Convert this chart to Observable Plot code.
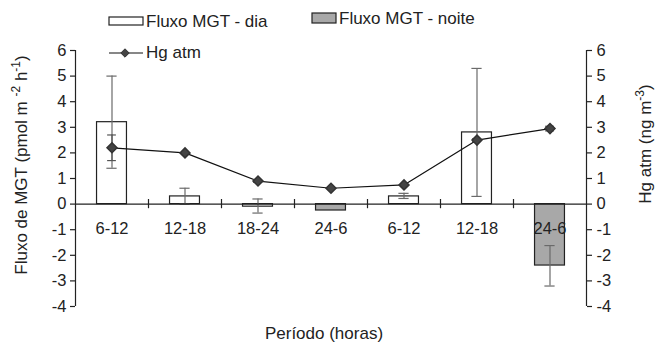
<!DOCTYPE html>
<html><head><meta charset="utf-8">
<script src="https://cdn.jsdelivr.net/npm/d3@7"></script>
<script src="https://cdn.jsdelivr.net/npm/@observablehq/plot@0.6"></script>
<style>
body{margin:0;background:#fff;font-family:"Liberation Sans",Arial,sans-serif;}
#wrap{position:relative;width:656px;height:343px;}
</style></head><body><div id="wrap"></div>
<script>
const periods = ["6-12","12-18","18-24","24-6","6-12","12-18","24-6"];
const shift   = ["dia","dia","dia","noite","dia","dia","noite"];
const fluxo   = [3.2, 0.3, -0.1, -0.25, 0.3, 2.8, -2.4];
const fluxoLo = [1.4, 0.0, -0.35, null, 0.22, 0.3, -3.2];
const fluxoHi = [5.0, 0.62, 0.2, null, 0.42, 5.3, -1.62];
const hg      = [2.2, 2.0, 0.9, 0.62, 0.75, 2.5, 2.95];
const hgLo    = [1.7, null, 0.85, null, null, 2.45, 2.86];
const hgHi    = [2.7, null, 0.95, null, null, 2.55, 3.04];
const yTicks  = [-4,-3,-2,-1,0,1,2,3,4,5,6];

const rows = periods.map((p,i)=>({i, p, shift:shift[i], f:fluxo[i], flo:fluxoLo[i], fhi:fluxoHi[i], hg:hg[i], hlo:hgLo[i], hhi:hgHi[i]}));
const fErr = rows.filter(d=>d.flo!=null);
const hErr = rows.filter(d=>d.hlo!=null);
const bounds = d3.range(1, periods.length).map(i=>i-0.5);
const bw = 0.205, cap = 0.07;
const fmt = d => String(d);

const ink = "#222";
const ff = '"Liberation Sans", Arial, sans-serif';
const chart = Plot.plot({
  width: 656, height: 343,
  marginLeft: 75, marginRight: 70, marginTop: 50, marginBottom: 37,
  style: {fontFamily: ff, fontSize: "16.5px", color: ink, background: "#fff"},
  x: {domain: [-0.5, periods.length - 0.5], axis: null},
  y: {domain: [-4, 6]},
  marks: [
    Plot.rectY(rows, {x1: d=>d.i-bw, x2: d=>d.i+bw, y1: 0, y2: "f",
      fill: d=>d.shift==="dia" ? "#fff" : "#a8a8a8", stroke: ink, strokeWidth: 1.2}),
    Plot.ruleX(fErr, {x: "i", y1: "flo", y2: "fhi", stroke: "#6a6a6a", strokeWidth: 1.2}),
    Plot.ruleY(fErr, {y: "flo", x1: d=>d.i-cap, x2: d=>d.i+cap, stroke: "#6a6a6a", strokeWidth: 1.2}),
    Plot.ruleY(fErr, {y: "fhi", x1: d=>d.i-cap, x2: d=>d.i+cap, stroke: "#6a6a6a", strokeWidth: 1.2}),
    Plot.ruleY([0], {stroke: ink, strokeWidth: 1.2}),
    Plot.ruleX(bounds, {y1: -0.18, y2: 0.18, stroke: ink, strokeWidth: 1.2}),
    Plot.ruleX([-0.5, periods.length - 0.5], {stroke: ink, strokeWidth: 1.2}),
    Plot.axisY(yTicks, {anchor: "left", tickSize: 5, tickPadding: 4, label: null, tickFormat: fmt, strokeWidth: 1.2}),
    Plot.axisY(yTicks, {anchor: "right", tickSize: 5, tickPadding: 5, label: null, tickFormat: fmt, strokeWidth: 1.2}),
    Plot.text(rows, {x: "i", y: 0, text: "p", dy: 25, fontSize: 16.5, fill: ink}),
    Plot.line(rows, {x: "i", y: "hg", stroke: "#111", strokeWidth: 1.2}),
    Plot.ruleX(hErr, {x: "i", y1: "hlo", y2: "hhi", stroke: "#555", strokeWidth: 1.2}),
    Plot.ruleY(hErr, {y: "hlo", x1: d=>d.i-0.06, x2: d=>d.i+0.06, stroke: "#555", strokeWidth: 1.2}),
    Plot.ruleY(hErr, {y: "hhi", x1: d=>d.i-0.06, x2: d=>d.i+0.06, stroke: "#555", strokeWidth: 1.2}),
    Plot.dot(rows, {x: "i", y: "hg", symbol: "diamond2", r: 4.5, fill: "#444", stroke: "#333"})
  ]
});
document.getElementById("wrap").appendChild(chart);

const svg = d3.select(chart);
function sup(t, parts){
  let up = false;
  parts.forEach(([s, isSup])=>{
    const ts = t.append("tspan").text(s);
    if (isSup) { ts.attr("dy", -7).attr("font-size", 12); up = true; }
    else if (up) { ts.attr("dy", 7); up = false; }
  });
}
// axis titles
const lt = svg.append("text").attr("transform", "translate(27,165) rotate(-90)")
  .attr("text-anchor", "middle").attr("font-family", ff).attr("font-size", 17).attr("fill", ink);
sup(lt, [["Fluxo de MGT (pmol m ", false], ["-2", true], [" h", false], ["-1", true], [")", false]]);
const rt = svg.append("text").attr("transform", "translate(651,144) rotate(-90)")
  .attr("text-anchor", "middle").attr("font-family", ff).attr("font-size", 17).attr("fill", ink);
sup(rt, [["Hg atm (ng m", false], ["-3", true], [")", false]]);
svg.append("text").attr("x", 324).attr("y", 339).attr("text-anchor", "middle")
  .attr("font-family", ff).attr("font-size", 17).attr("fill", ink).text("Período (horas)");

// legend
const lg = svg.append("g").attr("font-family", ff).attr("font-size", 17).attr("fill", ink).attr("text-anchor", "start");
lg.append("rect").attr("x", 109).attr("y", 17).attr("width", 34).attr("height", 8).attr("fill", "#fff").attr("stroke", ink).attr("stroke-width", 1.2);
lg.append("text").attr("x", 146).attr("y", 27).text("Fluxo MGT - dia");
lg.append("rect").attr("x", 312).attr("y", 13).attr("width", 24).attr("height", 10).attr("fill", "#a8a8a8").attr("stroke", ink).attr("stroke-width", 1.2);
lg.append("text").attr("x", 339).attr("y", 24).text("Fluxo MGT - noite");
lg.append("line").attr("x1", 109).attr("x2", 143).attr("y1", 53).attr("y2", 53).attr("stroke", "#111").attr("stroke-width", 1.2);
lg.append("path").attr("d", d3.symbol(d3.symbolDiamond2, 45)()).attr("transform", "translate(125,53)").attr("fill", "#444").attr("stroke", "#333");
lg.append("text").attr("x", 146).attr("y", 58).text("Hg atm");
</script></body></html>
